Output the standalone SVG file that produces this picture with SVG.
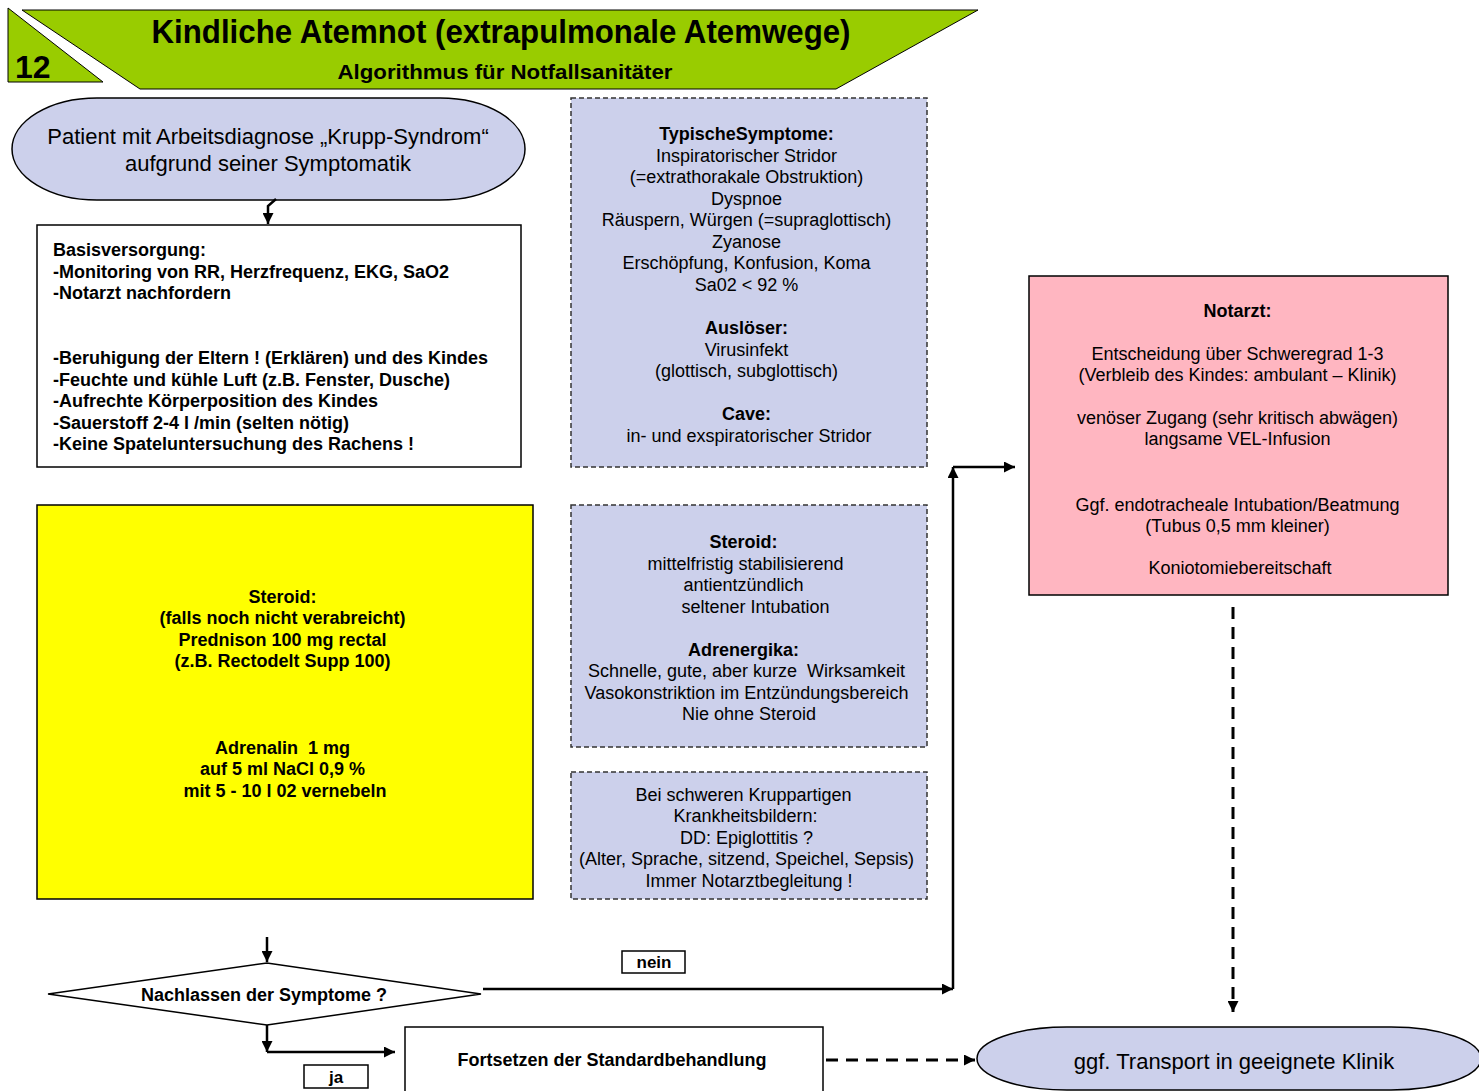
<svg xmlns="http://www.w3.org/2000/svg" width="1479" height="1091" viewBox="0 0 1479 1091">
<defs>
<style>
text{font-family:"Liberation Sans",Arial,sans-serif;fill:#000}
.b{font-weight:bold}
.c{text-anchor:middle}
.s18{font-size:18px}
.s22{font-size:22px}
.pre{white-space:pre}
.box{stroke:#000;stroke-width:1.5}
.dash{fill:#ccd0eb;stroke:#333;stroke-width:1.5;stroke-dasharray:5 3}
.lav{fill:#ccd0eb;stroke:#000;stroke-width:1.5}
.con{fill:none;stroke:#000;stroke-width:2.5}
.cdash{fill:none;stroke:#000;stroke-width:3;stroke-dasharray:12 8}
</style>
<marker id="ah" viewBox="0 0 10 10" refX="10" refY="5" markerWidth="13" markerHeight="11" markerUnits="userSpaceOnUse" orient="auto">
<path d="M0 0 L10 5 L0 10 Z" fill="#000"/>
</marker>
</defs>
<rect width="1479" height="1091" fill="#fff"/>

<g id="header">
<polygon points="8,8 8,82 103,82" fill="#99cc00" stroke="#000" stroke-width="1"/>
<text x="15" y="78" class="b" font-size="32">12</text>
<polygon points="22,10 978,10 836,89 140,89" fill="#99cc00" stroke="#000" stroke-width="1"/>
<text x="501" y="43" class="b c" font-size="33" textLength="699" lengthAdjust="spacingAndGlyphs">Kindliche Atemnot (extrapulmonale Atemwege)</text>
<text x="505" y="79" class="b c" font-size="21" textLength="335" lengthAdjust="spacingAndGlyphs">Algorithmus für Notfallsanitäter</text>
</g>

<g id="start">
<rect x="12" y="98" width="513" height="102" rx="85" ry="51" class="lav"/>
<text x="268" y="144" class="c s22">Patient mit Arbeitsdiagnose „Krupp-Syndrom“</text>
<text x="268" y="171" class="c s22">aufgrund seiner Symptomatik</text>
</g>

<g id="basis">
<rect x="37" y="225" width="484" height="242" fill="#fff" class="box"/>
<text class="b s18">
<tspan x="53" y="256">Basisversorgung:</tspan>
<tspan x="53" y="278">-Monitoring von RR, Herzfrequenz, EKG, SaO2</tspan>
<tspan x="53" y="299">-Notarzt nachfordern</tspan>
<tspan x="53" y="364">-Beruhigung der Eltern ! (Erklären) und des Kindes</tspan>
<tspan x="53" y="386">-Feuchte und kühle Luft (z.B. Fenster, Dusche)</tspan>
<tspan x="53" y="407">-Aufrechte Körperposition des Kindes</tspan>
<tspan x="53" y="429">-Sauerstoff 2-4 l /min (selten nötig)</tspan>
<tspan x="53" y="450">-Keine Spateluntersuchung des Rachens !</tspan>
</text>
</g>

<g id="symptome">
<rect x="571" y="98" width="356" height="369" class="dash"/>
<text class="c s18">
<tspan x="749" y="140" class="b">TypischeSymptome:</tspan>
<tspan x="749" y="162">Inspiratorischer Stridor</tspan>
<tspan x="749" y="183">(=extrathorakale Obstruktion)</tspan>
<tspan x="749" y="205">Dyspnoe</tspan>
<tspan x="749" y="226">Räuspern, Würgen (=supraglottisch)</tspan>
<tspan x="749" y="248">Zyanose</tspan>
<tspan x="749" y="269">Erschöpfung, Konfusion, Koma</tspan>
<tspan x="749" y="291">Sa02 &lt; 92 %</tspan>
<tspan x="749" y="334" class="b">Auslöser:</tspan>
<tspan x="749" y="356">Virusinfekt</tspan>
<tspan x="749" y="377">(glottisch, subglottisch)</tspan>
<tspan x="749" y="420" class="b">Cave:</tspan>
<tspan x="749" y="442">in- und exspiratorischer Stridor</tspan>
</text>
</g>

<g id="medikation">
<rect x="37" y="505" width="496" height="394" fill="#ffff00" class="box"/>
<text class="b c s18">
<tspan x="285" y="603">Steroid:</tspan>
<tspan x="285" y="624">(falls noch nicht verabreicht)</tspan>
<tspan x="285" y="646">Prednison 100 mg rectal</tspan>
<tspan x="285" y="667">(z.B. Rectodelt Supp 100)</tspan>
<tspan x="285" y="754" class="pre">Adrenalin  1 mg</tspan>
<tspan x="285" y="775">auf 5 ml NaCl 0,9 %</tspan>
<tspan x="285" y="797">mit 5 - 10 l 02 vernebeln</tspan>
</text>
</g>

<g id="wirkung">
<rect x="571" y="505" width="356" height="242" class="dash"/>
<text class="c s18">
<tspan x="746" y="548" class="b">Steroid:</tspan>
<tspan x="748" y="570">mittelfristig stabilisierend</tspan>
<tspan x="746" y="591">antientzündlich</tspan>
<tspan x="758" y="613">seltener Intubation</tspan>
<tspan x="746" y="656" class="b">Adrenergika:</tspan>
<tspan x="749" y="677" class="pre">Schnelle, gute, aber kurze  Wirksamkeit</tspan>
<tspan x="749" y="699">Vasokonstriktion im Entzündungsbereich</tspan>
<tspan x="749" y="720">Nie ohne Steroid</tspan>
</text>
</g>

<g id="epiglottitis">
<rect x="571" y="772" width="356" height="127" class="dash"/>
<text class="c s18">
<tspan x="746" y="801">Bei schweren Kruppartigen</tspan>
<tspan x="748" y="822">Krankheitsbildern:</tspan>
<tspan x="749" y="844">DD: Epiglottitis ?</tspan>
<tspan x="749" y="865">(Alter, Sprache, sitzend, Speichel, Sepsis)</tspan>
<tspan x="749" y="887">Immer Notarztbegleitung !</tspan>
</text>
</g>

<g id="notarzt">
<rect x="1029" y="276" width="419" height="319" fill="#ffb6c1" class="box"/>
<text class="c s18">
<tspan x="1240" y="317" class="b">Notarzt:</tspan>
<tspan x="1240" y="360">Entscheidung über Schweregrad 1-3</tspan>
<tspan x="1240" y="381">(Verbleib des Kindes: ambulant – Klinik)</tspan>
<tspan x="1240" y="424">venöser Zugang (sehr kritisch abwägen)</tspan>
<tspan x="1240" y="445">langsame VEL-Infusion</tspan>
<tspan x="1240" y="511">Ggf. endotracheale Intubation/Beatmung</tspan>
<tspan x="1240" y="532">(Tubus 0,5 mm kleiner)</tspan>
<tspan x="1240" y="574">Koniotomiebereitschaft</tspan>
</text>
</g>

<g id="entscheidung">
<polygon points="48,994 267,963 481,994 267,1025" fill="#fff" class="box"/>
<text x="264" y="1001" class="b c s18">Nachlassen der Symptome ?</text>
</g>

<g id="fortsetzen">
<rect x="405" y="1027" width="418" height="66" fill="#fff" class="box"/>
<text x="612" y="1066" class="b c s18">Fortsetzen der Standardbehandlung</text>
</g>

<g id="transport">
<rect x="977" y="1027" width="504" height="63" rx="90" ry="31.5" class="lav"/>
<text x="1234" y="1069" class="c s22">ggf. Transport in geeignete Klinik</text>
</g>

<g id="label-ja">
<rect x="304" y="1065" width="64" height="23" fill="#fff" class="box"/>
<text x="336" y="1083" class="b c" font-size="17">ja</text>
</g>

<g id="label-nein">
<rect x="622" y="951" width="63" height="22" fill="#fff" class="box"/>
<text x="654" y="968" class="b c" font-size="17">nein</text>
</g>

<g id="connectors">
<path d="M276 199 L268 206 L268 224" class="con" marker-end="url(#ah)"/>
<path d="M267 937 V962" class="con" marker-end="url(#ah)"/>
<path d="M267 1025 V1052" class="con" marker-end="url(#ah)"/>
<path d="M267 1052 H395" class="con" marker-end="url(#ah)"/>
<path d="M483 989 H953" class="con" marker-end="url(#ah)"/>
<path d="M953 989 V467" class="con" marker-end="url(#ah)"/>
<path d="M953 467 H1015" class="con" marker-end="url(#ah)"/>
<path d="M1233 607 V1012" class="cdash" marker-end="url(#ah)"/>
<path d="M826 1060 H975" class="cdash" marker-end="url(#ah)"/>
</g>
</svg>
